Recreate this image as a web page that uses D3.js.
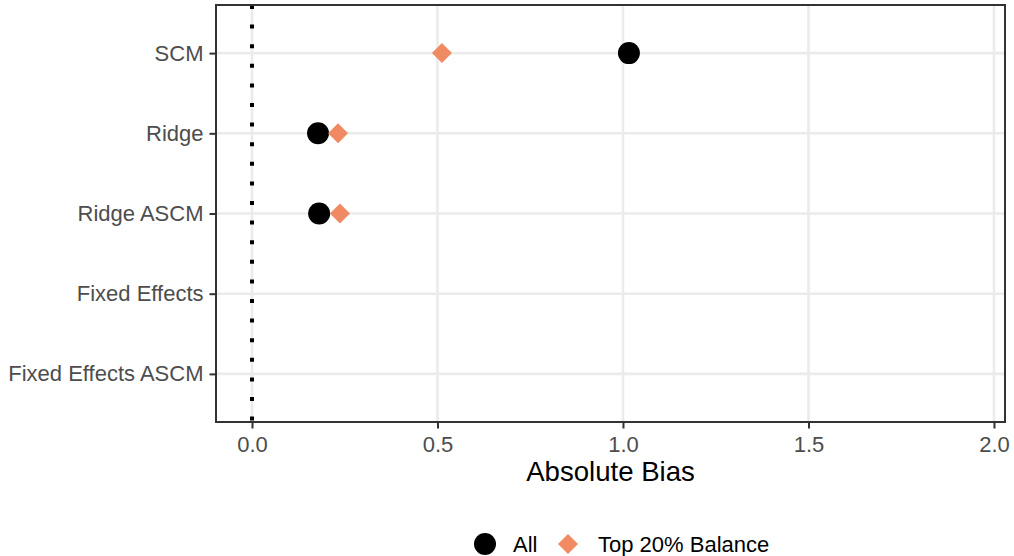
<!DOCTYPE html>
<html>
<head>
<meta charset="utf-8">
<script src="https://cdn.jsdelivr.net/npm/d3@7"></script>
<style>
  body { margin: 0; background: #fff; }
  text { font-family: "Liberation Sans", Arial, sans-serif; }
</style>
</head>
<body>
<div id="chart"></div>
<script>
// estimators, top to bottom
var methods = ["SCM", "Ridge", "Ridge ASCM", "Fixed Effects", "Fixed Effects ASCM"];
// absolute bias, all units (null = not shown)
var allBias = [1.016, 0.178, 0.181, null, null];
// absolute bias, top 20% balance
var topBias = [0.512, 0.232, 0.237, null, null];
var xTicks = [0, 0.5, 1, 1.5, 2];

var width = 1014, height = 556;
var panel = { left: 216, right: 1005, top: 5, bottom: 422 };
var grey = "#4D4D4D", orange = "#EF8A62";

var svg = d3.select("#chart").append("svg")
    .attr("width", width)
    .attr("height", height);

var x = d3.scaleLinear()
    .domain([-0.097, 2.0297])
    .range([panel.left, panel.right]);

var y = d3.scalePoint()
    .domain(methods)
    .range([panel.top, panel.bottom])
    .padding(0.6);

// grid lines
svg.append("g").selectAll("line")
    .data(xTicks)
    .enter().append("line")
    .attr("x1", d => x(d)).attr("x2", d => x(d))
    .attr("y1", panel.top).attr("y2", panel.bottom)
    .attr("stroke", "#EBEBEB").attr("stroke-width", 2.6);

svg.append("g").selectAll("line")
    .data(methods)
    .enter().append("line")
    .attr("x1", panel.left).attr("x2", panel.right)
    .attr("y1", d => y(d)).attr("y2", d => y(d))
    .attr("stroke", "#EBEBEB").attr("stroke-width", 2.6);

// dotted reference line at zero
svg.append("line")
    .attr("x1", x(0)).attr("x2", x(0))
    .attr("y1", panel.top).attr("y2", panel.bottom)
    .attr("stroke", "#000").attr("stroke-width", 4)
    .attr("stroke-dasharray", "4,15.6");

// points
var allData = methods.map((m, i) => ({ m: m, v: allBias[i] })).filter(d => d.v != null);
var topData = methods.map((m, i) => ({ m: m, v: topBias[i] })).filter(d => d.v != null);

svg.append("g").selectAll("circle")
    .data(allData)
    .enter().append("circle")
    .attr("cx", d => x(d.v))
    .attr("cy", d => y(d.m))
    .attr("r", 11)
    .attr("fill", "#000");

var diamond = "M0,-10L10,0L0,10L-10,0Z";
svg.append("g").selectAll("path")
    .data(topData)
    .enter().append("path")
    .attr("transform", d => "translate(" + x(d.v) + "," + y(d.m) + ")")
    .attr("d", diamond)
    .attr("fill", orange);

// panel border
svg.append("rect")
    .attr("x", panel.left).attr("y", panel.top)
    .attr("width", panel.right - panel.left)
    .attr("height", panel.bottom - panel.top)
    .attr("fill", "none")
    .attr("stroke", "#333").attr("stroke-width", 2);

// x axis
var xAxis = svg.append("g")
    .attr("transform", "translate(0," + panel.bottom + ")")
    .call(d3.axisBottom(x).tickValues(xTicks).tickFormat(d3.format(".1f")).tickSize(6.5).tickPadding(8));
xAxis.select(".domain").remove();
xAxis.selectAll(".tick line").attr("stroke", "#333").attr("stroke-width", 2);
xAxis.selectAll(".tick text")
    .attr("fill", grey)
    .style("font-size", "22px")
    .style("font-family", "'Liberation Sans', Arial, sans-serif");

// y axis
var yAxis = svg.append("g")
    .attr("transform", "translate(" + panel.left + ",0)")
    .call(d3.axisLeft(y).tickSize(6.5).tickPadding(6));
yAxis.select(".domain").remove();
yAxis.selectAll(".tick line").attr("stroke", "#333").attr("stroke-width", 2);
yAxis.selectAll(".tick text")
    .attr("fill", grey)
    .style("font-size", "22px")
    .style("font-family", "'Liberation Sans', Arial, sans-serif");

// axis title
svg.append("text")
    .attr("x", (panel.left + panel.right) / 2)
    .attr("y", 481)
    .attr("text-anchor", "middle")
    .style("font-size", "27.6px")
    .attr("fill", "#000")
    .text("Absolute Bias");

// legend
var legend = svg.append("g");
legend.append("circle").attr("cx", 485).attr("cy", 544).attr("r", 11).attr("fill", "#000");
legend.append("text").attr("x", 513).attr("y", 552).style("font-size", "22px").text("All");
legend.append("path").attr("transform", "translate(568,544)").attr("d", diamond).attr("fill", orange);
legend.append("text").attr("x", 598).attr("y", 552).style("font-size", "22px").text("Top 20% Balance");
</script>
</body>
</html>
